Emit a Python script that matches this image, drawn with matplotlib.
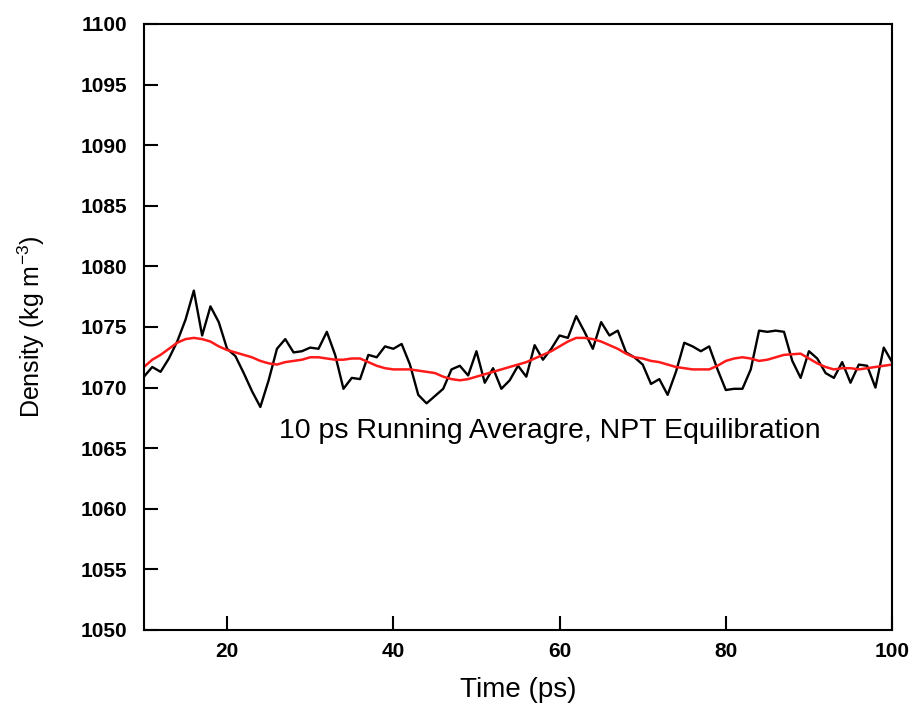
import numpy as np
import matplotlib.pyplot as plt

# time axis (ps), one sample per ps
time_ps = list(range(10, 101))

# instantaneous density (kg m^-3)
density = [
    1070.9, 1071.7, 1071.3, 1072.4, 1073.8, 1075.6, 1078.0, 1074.3, 1076.7, 1075.4,
    1073.2, 1072.6, 1071.2, 1069.7, 1068.4, 1070.6, 1073.2, 1074.0, 1072.9, 1073.0,
    1073.3, 1073.2, 1074.6, 1072.7, 1069.9, 1070.8, 1070.7, 1072.7, 1072.5, 1073.4,
    1073.2, 1073.6, 1071.9, 1069.4, 1068.7, 1069.3, 1069.9, 1071.5, 1071.8, 1071.0,
    1073.0, 1070.4, 1071.6, 1069.9, 1070.6, 1071.8, 1070.9, 1073.5, 1072.3, 1073.2,
    1074.3, 1074.1, 1075.9, 1074.6, 1073.2, 1075.4, 1074.3, 1074.7, 1072.9, 1072.5,
    1071.9, 1070.3, 1070.7, 1069.4, 1071.3, 1073.7, 1073.4, 1073.0, 1073.4, 1071.5,
    1069.8, 1069.9, 1069.9, 1071.5, 1074.7, 1074.6, 1074.7, 1074.6, 1072.2, 1070.8,
    1073.0, 1072.4, 1071.2, 1070.8, 1072.1, 1070.4, 1071.9, 1071.8, 1070.0, 1073.3,
    1072.1,
]

# 10 ps running average
running_avg = [
    1071.7, 1072.3, 1072.7, 1073.2, 1073.7, 1074.0, 1074.1, 1074.0, 1073.8, 1073.4,
    1073.1, 1072.9, 1072.7, 1072.5, 1072.2, 1072.0, 1071.9, 1072.1, 1072.2, 1072.3,
    1072.5, 1072.5, 1072.4, 1072.3, 1072.3, 1072.4, 1072.4, 1072.1, 1071.8, 1071.6,
    1071.5, 1071.5, 1071.5, 1071.4, 1071.3, 1071.2, 1070.9, 1070.7, 1070.6, 1070.7,
    1070.9, 1071.1, 1071.3, 1071.5, 1071.7, 1071.9, 1072.1, 1072.4, 1072.7, 1073.0,
    1073.4, 1073.8, 1074.1, 1074.1, 1074.0, 1073.8, 1073.5, 1073.2, 1072.8, 1072.5,
    1072.4, 1072.2, 1072.1, 1071.9, 1071.7, 1071.6, 1071.5, 1071.5, 1071.5, 1071.8,
    1072.2, 1072.4, 1072.5, 1072.4, 1072.2, 1072.3, 1072.5, 1072.7, 1072.75, 1072.8,
    1072.4, 1072.0, 1071.7, 1071.5, 1071.6, 1071.6, 1071.5, 1071.6, 1071.7, 1071.8,
    1071.9,
]

x_ticks = [20, 40, 60, 80, 100]
y_ticks = list(range(1050, 1101, 5))

plt.rcParams['font.family'] = ['Liberation Sans', 'DejaVu Sans']
plt.rcParams['mathtext.fontset'] = 'custom'
plt.rcParams['mathtext.rm'] = 'Liberation Sans'

fig = plt.figure(figsize=(9.14, 7.12), dpi=100, facecolor='white')
ax = fig.add_axes([0.1575, 0.1152, 0.8185, 0.8511])

ax.plot(time_ps, density, color='black', linewidth=1.7)
ax.plot(time_ps, running_avg, color='#ff1a1a', linewidth=1.8)

ax.set_xlim(10, 100)
ax.set_ylim(1050, 1100)
ax.set_xticks(x_ticks)
ax.set_yticks(y_ticks)
ax.tick_params(axis='both', direction='in', length=10, width=1.5,
               labelsize=15, top=False, right=False)
ax.tick_params(axis='y', pad=12)
ax.tick_params(axis='x', pad=9)
for lab in ax.get_xticklabels() + ax.get_yticklabels():
    lab.set_fontweight('bold')
for sp in ax.spines.values():
    sp.set_linewidth(1.5)

ax.set_xlabel('Time (ps)', fontsize=20, labelpad=11)
ax.set_ylabel('Density (kg m$^{\\mathregular{-3}}$)', fontsize=18, labelpad=24)

ax.text(26.2, 1066.4, '10 ps Running Averagre, NPT Equilibration',
        fontsize=20.5, ha='left', va='center')

fig.savefig('out.png', dpi=100, facecolor='white')
